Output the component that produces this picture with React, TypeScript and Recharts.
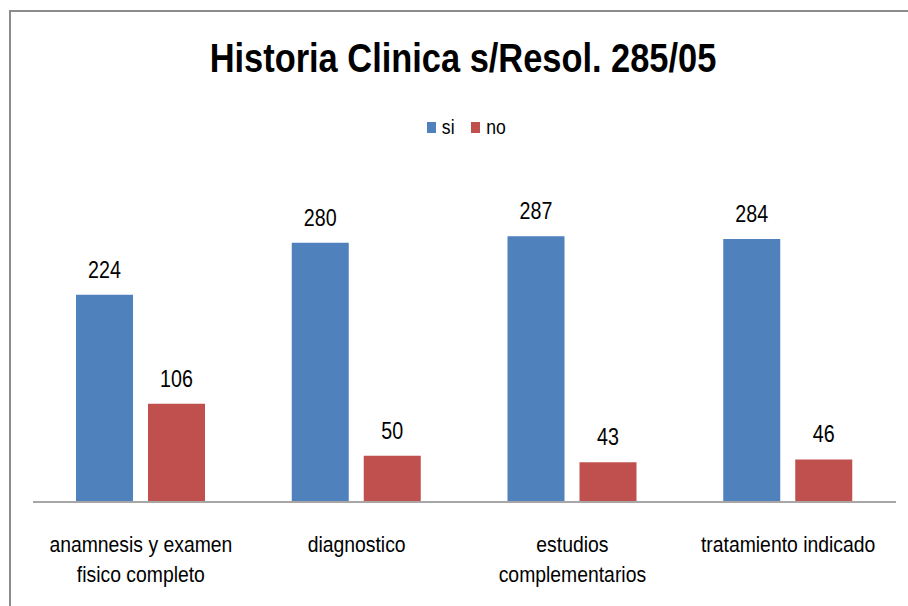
import { BarChart, Bar, XAxis, YAxis, LabelList } from "recharts";

const CATEGORIES = [
  "anamnesis y examen fisico completo",
  "diagnostico",
  "estudios complementarios",
  "tratamiento indicado",
];
const TICK_LINES = [
  ["anamnesis y examen", "fisico completo"],
  ["diagnostico"],
  ["estudios", "complementarios"],
  ["tratamiento indicado"],
];
const SI = [224, 280, 287, 284];
const NO = [106, 50, 43, 46];

const BLUE = "#4F81BD";
const RED = "#C0504D";
const FONT = "'Liberation Sans', Arial, sans-serif";
// the original uses a narrow font (Calibri); squeeze Liberation Sans horizontally
const SQUEEZE = 0.88;

const data = CATEGORIES.map((name, i) => ({ name, si: SI[i], no: NO[i] }));

function CategoryTick(props: any) {
  const { x, y, payload } = props;
  const lines = TICK_LINES[payload.index] ?? [payload.value];
  return (
    <text
      transform={`translate(${x},${y}) scale(${SQUEEZE},1)`}
      textAnchor="middle"
      fill="#000"
      fontSize={22}
      fontFamily={FONT}
    >
      {lines.map((l, i) => (
        <tspan key={i} x={0} dy={i === 0 ? 42 : 30}>
          {l}
        </tspan>
      ))}
    </text>
  );
}

function ValueLabel(props: any) {
  const { x, y, width, value } = props;
  return (
    <text
      transform={`translate(${x + width / 2},${y - 17}) scale(0.82,1)`}
      textAnchor="middle"
      fill="#000"
      fontSize={24}
      fontFamily={FONT}
    >
      {value}
    </text>
  );
}

function ChartLegend() {
  const items = [
    { label: "si", color: BLUE },
    { label: "no", color: RED },
  ];
  return (
    <div
      style={{
        position: "absolute",
        left: 13,
        width: 908,
        top: 115,
        display: "flex",
        justifyContent: "center",
        gap: 15,
        fontFamily: FONT,
        fontSize: 20,
        lineHeight: "24px",
      }}
    >
      {items.map((it) => (
        <div key={it.label} style={{ display: "flex", alignItems: "center", gap: 5 }}>
          <span style={{ width: 9, height: 11, background: it.color, display: "inline-block" }} />
          <span style={{ color: "#000", display: "inline-block", transform: `scaleX(${SQUEEZE})` }}>{it.label}</span>
        </div>
      ))}
    </div>
  );
}

export default function App() {
  return (
    <div style={{ position: "fixed", left: 0, top: 0, width: 908, height: 606, background: "#fff" }}>
      <div
        style={{
          position: "absolute",
          left: 9,
          top: 10,
          right: 0,
          bottom: 0,
          borderTop: "2px solid #8c8c8c",
          borderLeft: "2px solid #8c8c8c",
        }}
      />
      <div
        style={{
          position: "absolute",
          left: 9,
          width: 908,
          top: 36,
          textAlign: "center",
          fontFamily: FONT,
          fontWeight: "bold",
          fontSize: 40,
          color: "#000",
          transform: "scaleX(0.86)",
        }}
      >
        Historia Clinica s/Resol. 285/05
      </div>
      <ChartLegend />
      <div style={{ position: "absolute", left: 0, top: 0 }}>
        <BarChart
          width={908}
          height={606}
          data={data}
          margin={{ top: 178, right: 12, left: 33, bottom: 0 }}
          barSize={57}
          barGap={15}
        >
          <XAxis
            dataKey="name"
            height={104}
            axisLine={{ stroke: "#a6a6a6", strokeWidth: 2 }}
            tickLine={false}
            interval={0}
            tick={<CategoryTick />}
          />
          <YAxis hide domain={[0, 350]} />
          <Bar dataKey="si" fill={BLUE} isAnimationActive={false}>
            <LabelList dataKey="si" content={<ValueLabel />} />
          </Bar>
          <Bar dataKey="no" fill={RED} isAnimationActive={false}>
            <LabelList dataKey="no" content={<ValueLabel />} />
          </Bar>
        </BarChart>
      </div>
    </div>
  );
}
